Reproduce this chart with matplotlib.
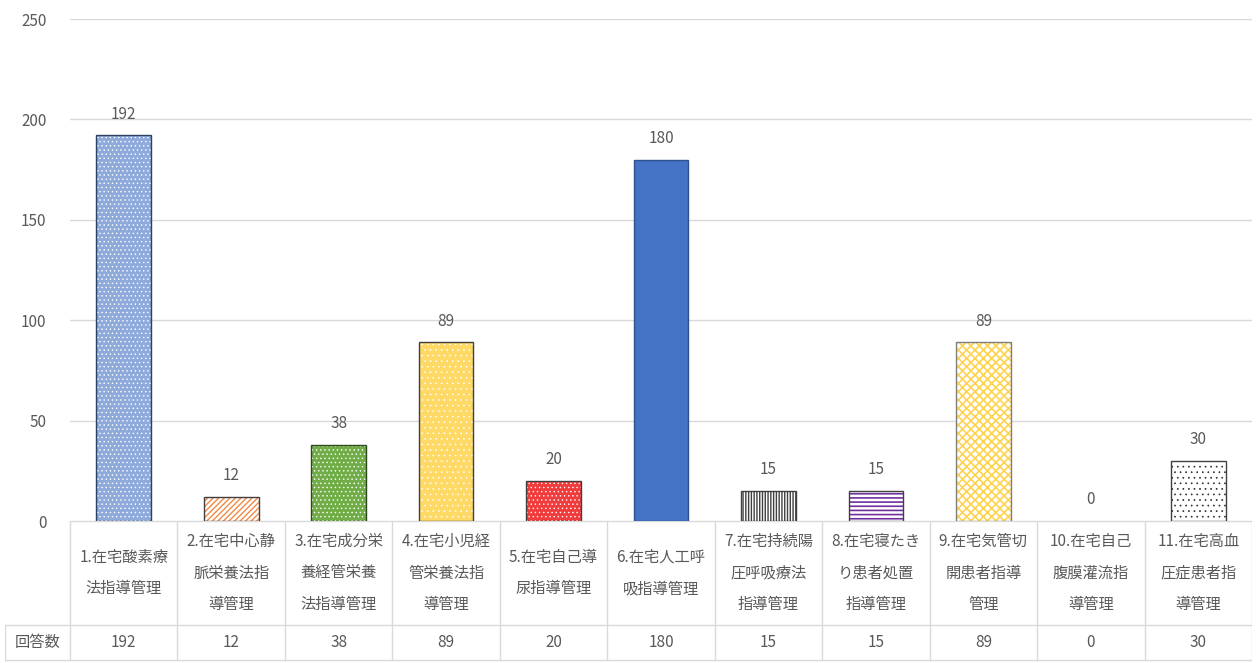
import numpy as np
import matplotlib
matplotlib.use('Agg')
import matplotlib.pyplot as plt

plt.rcParams['font.family'] = ['Noto Sans CJK JP', 'DejaVu Sans']

# categories and answer counts
labels = ['1.在宅酸素療\n法指導管理', '2.在宅中心静\n脈栄養法指\n導管理', '3.在宅成分栄\n養経管栄養\n法指導管理',
          '4.在宅小児経\n管栄養法指\n導管理', '5.在宅自己導\n尿指導管理', '6.在宅人工呼\n吸指導管理',
          '7.在宅持続陽\n圧呼吸療法\n指導管理', '8.在宅寝たき\nり患者処置\n指導管理', '9.在宅気管切\n開患者指導\n管理',
          '10.在宅自己\n腹膜灌流指\n導管理', '11.在宅高血\n圧症患者指\n導管理']
counts = [192, 12, 38, 89, 20, 180, 15, 15, 89, 0, 30]
row_name = '回答数'

# fill colour, hatch, hatch colour, hatch width, edge colour per bar
faces = ['#8eaadb', 'white', '#70ad47', '#ffd966', '#f03c3c', '#4472c4', 'white', 'white', 'white', 'white', 'white']
hatches = ['....', '//////', '....', '...', '....', '', '||||||', '----', 'xxxx', '', '...']
hcolors = ['white', '#f08a45', 'white', 'white', 'white', '#4472c4', '#404040', '#7030a0', '#ffd34d', 'white', '#303030']
hwidths = [0.5, 1.0, 0.5, 0.4, 0.5, 1.0, 1.0, 1.2, 1.2, 1.0, 0.5]
edges = ['#2f3f60', '#404040', '#2e4a1e', '#404040', '#404040', '#2f528f', '#404040', '#404040', '#7f7f7f', '#404040', '#404040']

txt = '#595959'
grid = '#d9d9d9'

W, H = 1256, 663
fig = plt.figure(figsize=(W / 100, H / 100), dpi=100)
ax = fig.add_axes([70 / W, (H - 521) / H, (1252 - 70) / W, (521 - 19) / H])

x = np.arange(len(counts))
bw = 0.51
for i, v in enumerate(counts):
    if v == 0:
        continue
    with plt.rc_context({'hatch.linewidth': hwidths[i]}):
        ax.bar(x[i], v, bw, color=faces[i], hatch=hatches[i], edgecolor=hcolors[i], linewidth=0, zorder=2)
    ax.bar(x[i], v, bw, color='none', edgecolor=edges[i], linewidth=1.0, zorder=3)

for xi, v in zip(x, counts):
    ax.annotate(str(v), (xi, v), xytext=(0, 9), textcoords='offset points',
                ha='center', va='bottom', fontsize=11, color=txt)

ax.set_xlim(-0.5, len(counts) - 0.5)
ax.set_ylim(0, 250)
ax.set_yticks(range(0, 251, 50))
ax.set_xticks([])
ax.grid(axis='y', color=grid, linewidth=1.0, zorder=0)
ax.set_axisbelow(True)
for s in ax.spines.values():
    s.set_visible(False)
ax.tick_params(axis='y', length=0, pad=17, labelsize=11, labelcolor=txt)

# data table underneath the plot
head = 65 / 107.45
tab = fig.add_axes([5 / W, 0, (1252 - 5) / W, (H - 521) / H])
tab.set_xlim(-0.5 - head, len(counts) - 0.5)
tab.set_ylim(142, 0)
tab.axis('off')
r1, r2 = 104, 139
tab.plot([-0.5, len(counts) - 0.5], [0, 0], color=grid, lw=1)
tab.plot([-0.5 - head, len(counts) - 0.5], [r1, r1], color=grid, lw=1)
tab.plot([-0.5 - head, len(counts) - 0.5], [r2, r2], color=grid, lw=1)
tab.plot([-0.5 - head, -0.5 - head], [r1, r2], color=grid, lw=1)
for b in np.arange(len(counts) + 1) - 0.5:
    tab.plot([b, b], [0, r2], color=grid, lw=1)
for xi, lab, v in zip(x, labels, counts):
    tab.text(xi, r1 / 2, lab, ha='center', va='center', fontsize=11, color=txt,
             linespacing=2.1, multialignment='center')
    tab.text(xi, (r1 + r2) / 2, str(v), ha='center', va='center', fontsize=11, color=txt)
tab.text(-0.5 - head / 2, (r1 + r2) / 2, row_name, ha='center', va='center', fontsize=11, color=txt)

fig.savefig('out.png', dpi=100)
